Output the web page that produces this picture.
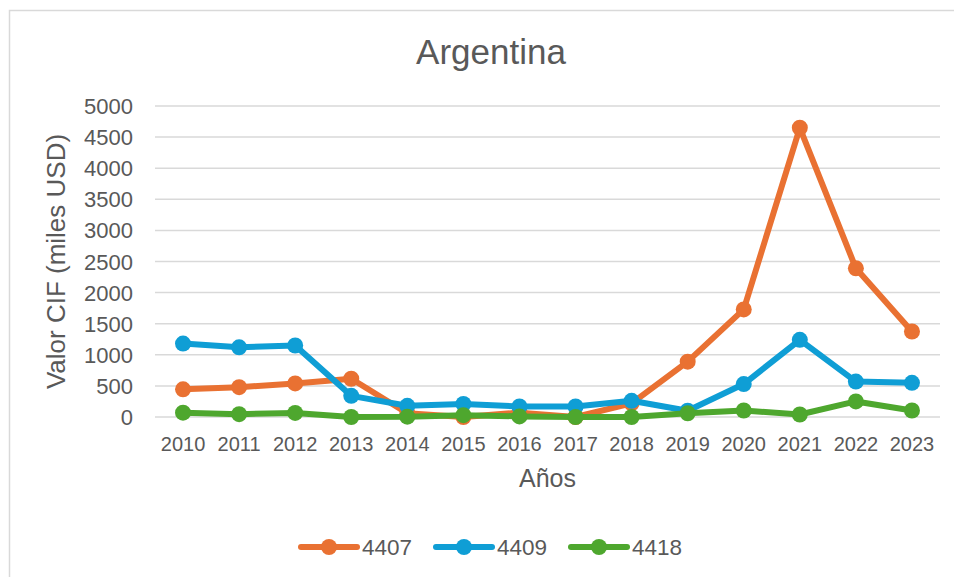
<!DOCTYPE html>
<html>
<head>
<meta charset="utf-8">
<script src="https://cdn.jsdelivr.net/npm/d3@7"></script>
<style>
  body { margin: 0; background: #fff; }
  svg { font-family: 'Liberation Sans', Arial, sans-serif; }
  .tickText { fill: #595959; }
</style>
</head>
<body>
<svg id="chart"></svg>
<script>
// values (miles USD)
const years = ['2010', '2011', '2012', '2013', '2014', '2015', '2016', '2017', '2018', '2019', '2020', '2021', '2022', '2023'];
const s4407 = [445, 480, 540, 615, 60, 0, 70, 0, 220, 890, 1730, 4650, 2390, 1375];
const s4409 = [1180, 1120, 1150, 340, 180, 210, 170, 170, 260, 100, 530, 1240, 570, 550];
const s4418 = [70, 45, 65, 0, 5, 30, 10, 0, 0, 60, 105, 40, 250, 105];
const seriesNames = ['4407', '4409', '4418'];
const yTicks = [0, 500, 1000, 1500, 2000, 2500, 3000, 3500, 4000, 4500, 5000];

const colors = ['#E97132', '#0F9ED5', '#4EA72E'];
const textColor = '#595959';

function drawChart(width, height) {
  let svg = d3
    .select('#chart')
    .attr('width', width)
    .attr('height', height);

  // chart border
  svg
    .append('rect')
    .attr('x', 9.5)
    .attr('y', 10.5)
    .attr('width', 980)
    .attr('height', 620)
    .attr('fill', 'none')
    .attr('stroke', '#d9d9d9')
    .attr('stroke-width', 1.5);

  let plot = { left: 155, right: 940, top: 106, bottom: 417 };

  let x = d3
    .scaleBand()
    .domain(years)
    .range([plot.left, plot.right]);

  let y = d3
    .scaleLinear()
    .domain([0, 5000])
    .range([plot.bottom, plot.top]);

  // gridlines
  svg
    .append('g')
    .selectAll('line')
    .data(yTicks)
    .enter()
    .append('line')
    .attr('x1', plot.left)
    .attr('x2', plot.right)
    .attr('y1', d => y(d))
    .attr('y2', d => y(d))
    .attr('stroke', '#d9d9d9')
    .attr('stroke-width', 1.5);

  // y tick labels
  svg
    .append('g')
    .selectAll('text')
    .data(yTicks)
    .enter()
    .append('text')
    .classed('tickText', true)
    .attr('x', 133)
    .attr('y', d => y(d) + 8)
    .attr('text-anchor', 'end')
    .attr('font-size', 22)
    .text(d => d);

  // x tick labels
  svg
    .append('g')
    .selectAll('text')
    .data(years)
    .enter()
    .append('text')
    .classed('tickText', true)
    .attr('x', d => x(d) + x.bandwidth() / 2)
    .attr('y', 451)
    .attr('text-anchor', 'middle')
    .attr('font-size', 20)
    .text(d => d);

  // titles
  svg
    .append('text')
    .attr('x', 491)
    .attr('y', 64)
    .attr('text-anchor', 'middle')
    .attr('font-size', 35)
    .attr('fill', textColor)
    .text('Argentina');

  svg
    .append('text')
    .attr('x', (plot.left + plot.right) / 2)
    .attr('y', 487)
    .attr('text-anchor', 'middle')
    .attr('font-size', 25)
    .attr('fill', textColor)
    .text('Años');

  svg
    .append('text')
    .attr('transform', 'translate(65,' + (plot.top + plot.bottom) / 2 + ') rotate(-90)')
    .attr('text-anchor', 'middle')
    .attr('font-size', 26)
    .attr('fill', textColor)
    .text('Valor CIF (miles USD)');

  // series
  let allSeries = [s4407, s4409, s4418];
  let line = d3
    .line()
    .x((d, i) => x(years[i]) + x.bandwidth() / 2)
    .y(d => y(d));

  allSeries.forEach((values, k) => {
    let g = svg.append('g');
    g
      .append('path')
      .attr('d', line(values))
      .attr('fill', 'none')
      .attr('stroke', colors[k])
      .attr('stroke-width', 6)
      .attr('stroke-linejoin', 'round')
      .attr('stroke-linecap', 'round');
    g
      .selectAll('circle')
      .data(values)
      .enter()
      .append('circle')
      .attr('cx', (d, i) => x(years[i]) + x.bandwidth() / 2)
      .attr('cy', d => y(d))
      .attr('r', 8)
      .attr('fill', colors[k]);
  });

  // legend
  let legendX = [301, 436, 571];
  let legend = svg
    .append('g')
    .selectAll('g')
    .data(seriesNames)
    .enter()
    .append('g')
    .attr('transform', (d, i) => 'translate(' + legendX[i] + ',547)');

  legend
    .append('line')
    .attr('x1', 0)
    .attr('x2', 56)
    .attr('stroke', (d, i) => colors[i])
    .attr('stroke-width', 6)
    .attr('stroke-linecap', 'round');

  legend
    .append('circle')
    .attr('cx', 28)
    .attr('r', 8)
    .attr('fill', (d, i) => colors[i]);

  legend
    .append('text')
    .attr('x', 61)
    .attr('y', 8)
    .attr('font-size', 22.5)
    .attr('fill', textColor)
    .text(d => d);
}

drawChart(954, 577);
</script>
</body>
</html>
